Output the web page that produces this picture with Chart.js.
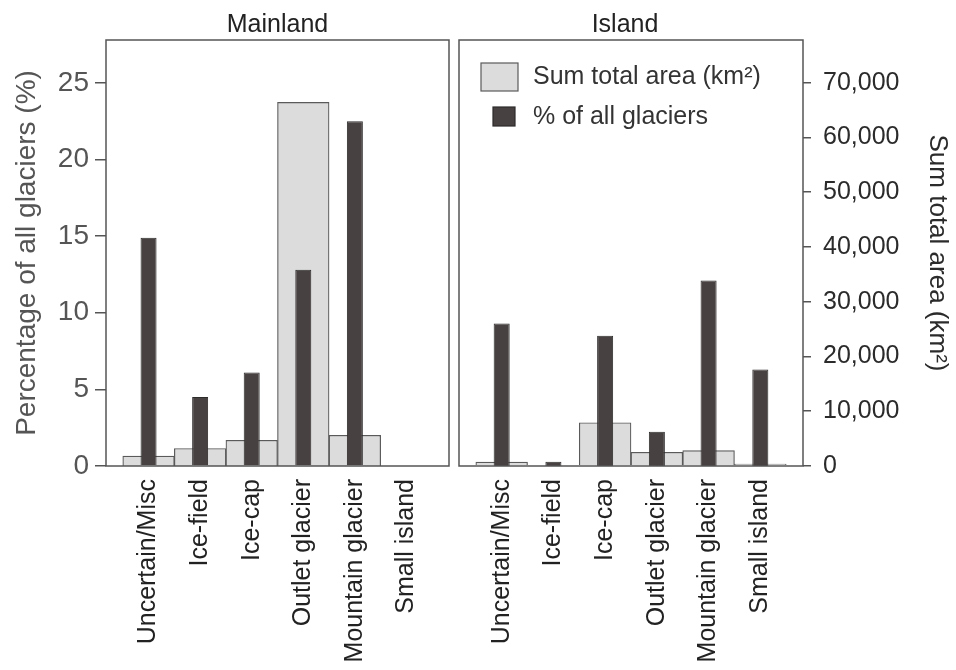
<!DOCTYPE html>
<html>
<head>
<meta charset="utf-8">
<script src="https://cdn.jsdelivr.net/npm/chart.js@4/dist/chart.umd.min.js"></script>
<style>
  html, body { margin: 0; padding: 0; background: #fff; }
  #wrap { position: relative; width: 956px; height: 670px; overflow: hidden; }
  #mainland { position: absolute; left: 0; top: 0; }
  #island { position: absolute; left: 454px; top: 0; }
</style>
</head>
<body>
<div id="wrap">
  <canvas id="mainland" width="454" height="670"></canvas>
  <canvas id="island" width="502" height="670"></canvas>
</div>
<script>
// Glacier classes shown in both panels
const categories = ['Uncertain/Misc', 'Ice-field', 'Ice-cap', 'Outlet glacier', 'Mountain glacier', 'Small island'];

// % of all glaciers
const mainlandPct = [14.9, 4.5, 6.1, 12.8, 22.5, 0];
const islandPct   = [9.3, 0.27, 8.5, 2.23, 12.1, 6.3];

// Sum total area (km²)
const mainlandArea = [1800, 3200, 4700, 66400, 5600, 0];
const islandArea   = [700, 0, 7900, 2500, 2800, 350];

// Axis ticks
const pctTicks  = [0, 5, 10, 15, 20, 25];
const areaTicks = [0, 10000, 20000, 30000, 40000, 50000, 60000, 70000];
const PCT_MAX = 27.8;
const AREA_MAX = 77800;

const FONT = "'Liberation Sans', Arial, sans-serif";
const GREY_FILL = '#dcdcdc', GREY_EDGE = '#5a5a5a';
const DARK_FILL = '#474241', DARK_EDGE = '#2e2b2b';
const FRAME = '#555555';

const toPoints = arr => arr.map((v, i) => ({ x: i, y: v }));

// Box around each panel's plot area
const framePlugin = {
  id: 'frame',
  afterDatasetsDraw(chart) {
    const { ctx, chartArea: a } = chart;
    ctx.save();
    ctx.strokeStyle = FRAME;
    ctx.lineWidth = 1.5;
    ctx.strokeRect(a.left, a.top, a.right - a.left, a.bottom - a.top);
    ctx.restore();
  }
};

// Panel heading above the plot area
const panelTitlePlugin = {
  id: 'panelTitle',
  afterDraw(chart, args, opts) {
    const { ctx, chartArea: a } = chart;
    ctx.save();
    ctx.font = `25px ${FONT}`;
    ctx.fillStyle = '#222';
    ctx.textAlign = 'center';
    ctx.textBaseline = 'alphabetic';
    ctx.fillText(opts.text, (a.left + a.right) / 2 + (opts.dx || 0), 32);
    ctx.restore();
  }
};

// Legend drawn inside the plot area
const boxLegendPlugin = {
  id: 'boxLegend',
  afterDraw(chart, args, opts) {
    if (!opts.items) return;
    const { ctx, chartArea: a } = chart;
    ctx.save();
    ctx.font = `25px ${FONT}`;
    ctx.textBaseline = 'middle';
    ctx.textAlign = 'left';
    opts.items.forEach(it => {
      const ds = chart.data.datasets[it.dataset];
      ctx.fillStyle = ds.backgroundColor;
      ctx.fillRect(a.left + it.x, a.top + it.y, it.w, it.h);
      ctx.strokeStyle = ds.borderColor;
      ctx.lineWidth = 1.2;
      ctx.strokeRect(a.left + it.x, a.top + it.y, it.w, it.h);
      ctx.fillStyle = '#333';
      ctx.fillText(ds.label, a.left + 74, a.top + it.ty);
    });
    ctx.restore();
  }
};

function makeChart(canvasId, pct, area, side, title, titleDx) {
  const isLeft = side === 'left';
  return new Chart(document.getElementById(canvasId), {
    type: 'bar',
    data: {
      datasets: [
        {
          label: 'Sum total area (km²)',
          data: toPoints(area),
          yAxisID: 'yArea',
          backgroundColor: GREY_FILL,
          borderColor: GREY_EDGE,
          borderWidth: 1.2,
          borderSkipped: 'start',
          barPercentage: 1.0,
          categoryPercentage: 1.0,
          grouped: false,
          order: 2
        },
        {
          label: '% of all glaciers',
          data: toPoints(pct),
          yAxisID: 'yPct',
          backgroundColor: DARK_FILL,
          borderColor: DARK_EDGE,
          borderWidth: 1,
          borderSkipped: 'start',
          barPercentage: 0.31,
          categoryPercentage: 1.0,
          grouped: false,
          order: 1
        }
      ]
    },
    options: {
      responsive: false,
      animation: false,
      devicePixelRatio: 1,
      layout: { padding: { top: 40, left: isLeft ? 0 : 5, right: isLeft ? 5 : 0, bottom: 0 } },
      plugins: {
        legend: { display: false },
        tooltip: { enabled: false },
        panelTitle: { text: title, dx: titleDx },
        boxLegend: isLeft ? {} : {
          items: [
            { dataset: 0, x: 22, y: 23, w: 37, h: 28, ty: 37 },
            { dataset: 1, x: 34, y: 67, w: 22, h: 19, ty: 77 }
          ]
        }
      },
      scales: {
        x: {
          type: 'linear',
          min: -0.825,
          max: 5.825,
          offset: false,
          afterBuildTicks: s => { s.ticks = categories.map((c, i) => ({ value: i })); },
          afterFit: s => { s.height = 204; },
          grid: { display: false, drawTicks: false },
          border: { display: false },
          ticks: {
            autoSkip: false,
            minRotation: 90,
            maxRotation: 90,
            padding: 13,
            color: '#222',
            font: { family: FONT, size: 25 },
            callback: v => categories[v]
          }
        },
        yPct: {
          type: 'linear',
          position: 'left',
          display: isLeft,
          min: 0,
          max: PCT_MAX,
          afterBuildTicks: s => { s.ticks = pctTicks.map(v => ({ value: v })); },
          afterFit: s => { s.width = isLeft ? 106 : 0; },
          grid: { drawOnChartArea: false, drawTicks: true, tickLength: 11, color: FRAME, lineWidth: 1.5 },
          border: { display: false },
          ticks: {
            padding: 6,
            color: '#555',
            font: { family: FONT, size: 28 }
          },
          title: {
            display: true,
            text: 'Percentage of all glaciers (%)',
            color: '#555',
            font: { family: FONT, size: 28 },
            padding: { top: 10, bottom: 0 }
          }
        },
        yArea: {
          type: 'linear',
          position: 'right',
          display: !isLeft,
          min: 0,
          max: AREA_MAX,
          afterBuildTicks: s => { s.ticks = areaTicks.map(v => ({ value: v })); },
          afterFit: s => { s.width = isLeft ? 0 : 153; },
          grid: { drawOnChartArea: false, drawTicks: true, tickLength: 8, color: FRAME, lineWidth: 1.5 },
          border: { display: false },
          ticks: {
            padding: 12,
            color: '#2b2b2b',
            font: { family: FONT, size: 25 },
            callback: v => v.toLocaleString('en-US')
          },
          title: {
            display: true,
            text: 'Sum total area (km²)',
            color: '#2b2b2b',
            font: { family: FONT, size: 26 },
            padding: { top: 3, bottom: 0 }
          }
        }
      }
    },
    plugins: [framePlugin, panelTitlePlugin, boxLegendPlugin]
  });
}

makeChart('mainland', mainlandPct, mainlandArea, 'left', 'Mainland', 0);
makeChart('island', islandPct, islandArea, 'right', 'Island', -6);
</script>
</body>
</html>
